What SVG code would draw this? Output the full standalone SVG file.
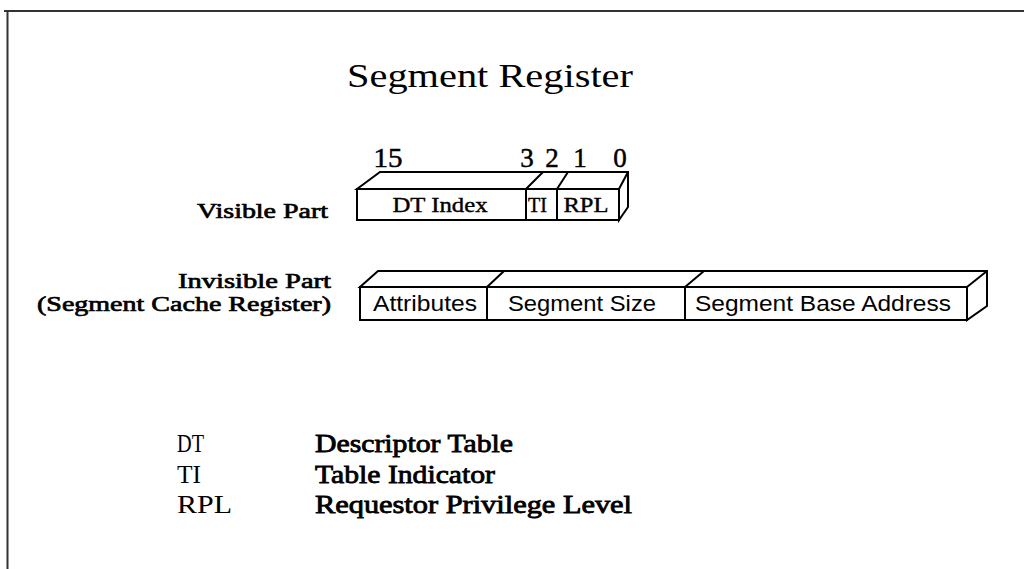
<svg xmlns="http://www.w3.org/2000/svg" width="1024" height="569" viewBox="0 0 1024 569">
  <style>
    .frame { fill: none; stroke: #333; stroke-width: 2; }
    .box { fill: #fff; stroke: #000; stroke-width: 2; stroke-linejoin: miter; }
    .ln { fill: none; stroke: #000; stroke-width: 2; }
    .title { font-family: "Liberation Serif", serif; font-size: 34px; fill: #000; }
    .bit { font-family: "Liberation Serif", serif; font-size: 27px; fill: #000; stroke: #000; stroke-width: 0.5; text-anchor: middle; }
    .field { font-family: "Liberation Serif", serif; font-size: 21px; fill: #000; stroke: #000; stroke-width: 0.4; text-anchor: middle; }
    .cache { font-family: "Liberation Sans", Arial, sans-serif; font-size: 22px; fill: #000; text-anchor: middle; }
    .label { font-family: "Liberation Serif", serif; font-size: 22px; fill: #000; stroke: #000; stroke-width: 0.7; text-anchor: end; }
    .abbr { font-family: "Liberation Serif", serif; font-size: 25px; fill: #000; }
    .desc { font-family: "Liberation Serif", serif; font-size: 25px; fill: #000; stroke: #000; stroke-width: 0.8; }
  </style>

  <!-- page frame (top and left edges) -->
  <path class="frame" d="M4,11 H1024 M7.5,10 V569"/>

  <g id="title">
    <text class="title" x="347" y="87" textLength="286" lengthAdjust="spacingAndGlyphs">Segment Register</text>
  </g>

  <!-- visible 16-bit selector register -->
  <g id="visible-register">
    <text class="bit" x="388" y="167" textLength="29" lengthAdjust="spacingAndGlyphs">15</text>
    <text class="bit" x="527" y="167">3</text>
    <text class="bit" x="552" y="167">2</text>
    <text class="bit" x="580" y="167">1</text>
    <text class="bit" x="620" y="167">0</text>
    <!-- top face and right face -->
    <path class="box" d="M357,189 L380,172 H628 V207 L619,220 V189 Z"/>
    <path class="ln" d="M619,189 L628,172"/>
    <!-- front face -->
    <rect class="box" x="357" y="189" width="262" height="31"/>
    <path class="ln" d="M526,189 V220 M526,189 L543,172 M557,189 V220 M557,189 L568,172"/>
    <text class="field" x="440" y="212" textLength="95" lengthAdjust="spacingAndGlyphs">DT Index</text>
    <text class="field" x="537.5" y="212" textLength="19" lengthAdjust="spacingAndGlyphs">TI</text>
    <text class="field" x="586" y="212" textLength="45" lengthAdjust="spacingAndGlyphs">RPL</text>
  </g>

  <!-- hidden descriptor cache -->
  <g id="cache-register">
    <path class="box" d="M360,287 L378,271 H987 V306 L967,320 V287 Z"/>
    <path class="ln" d="M967,287 L987,271"/>
    <rect class="box" x="360" y="287" width="607" height="33"/>
    <path class="ln" d="M487,287 V320 M487,287 L504,271 M685,287 V320 M685,287 L704,271"/>
    <text class="cache" x="425" y="311" textLength="104" lengthAdjust="spacingAndGlyphs">Attributes</text>
    <text class="cache" x="582" y="311" textLength="148" lengthAdjust="spacingAndGlyphs">Segment Size</text>
    <text class="cache" x="823" y="311" textLength="256" lengthAdjust="spacingAndGlyphs">Segment Base Address</text>
  </g>

  <g id="labels">
    <text class="label" x="328" y="218" textLength="131" lengthAdjust="spacingAndGlyphs">Visible Part</text>
    <text class="label" x="331" y="288" textLength="153" lengthAdjust="spacingAndGlyphs">Invisible Part</text>
    <text class="label" x="331" y="311" textLength="294" lengthAdjust="spacingAndGlyphs">(Segment Cache Register)</text>
  </g>

  <g id="legend">
    <text class="abbr" x="177" y="452" textLength="27" lengthAdjust="spacingAndGlyphs">DT</text>
    <text class="desc" x="315" y="452" textLength="198" lengthAdjust="spacingAndGlyphs">Descriptor Table</text>
    <text class="abbr" x="177" y="483" textLength="24" lengthAdjust="spacingAndGlyphs">TI</text>
    <text class="desc" x="315" y="483" textLength="180" lengthAdjust="spacingAndGlyphs">Table Indicator</text>
    <text class="abbr" x="177" y="513" textLength="55" lengthAdjust="spacingAndGlyphs">RPL</text>
    <text class="desc" x="315" y="513" textLength="317" lengthAdjust="spacingAndGlyphs">Requestor Privilege Level</text>
  </g>
</svg>
